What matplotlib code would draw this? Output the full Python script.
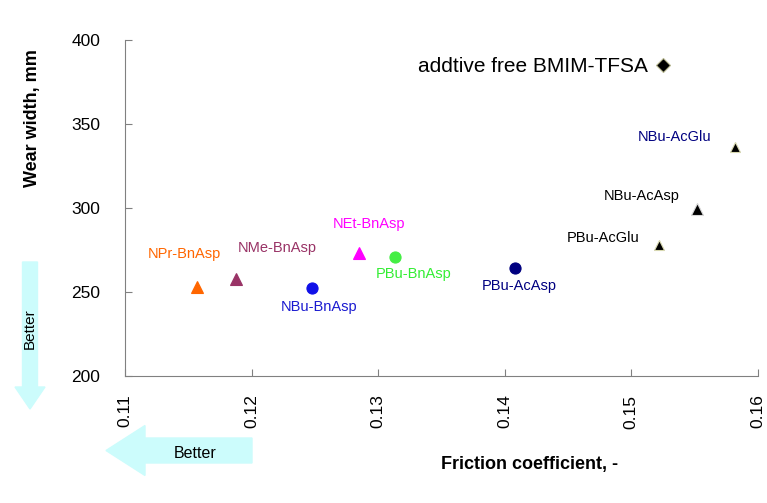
import matplotlib.pyplot as plt
from matplotlib.patches import FancyArrow

plt.rcParams["font.family"] = ["Liberation Sans", "DejaVu Sans"]

# data
names = ["addtive free BMIM-TFSA", "NBu-AcGlu", "NBu-AcAsp", "PBu-AcGlu", "PBu-AcAsp",
         "PBu-BnAsp", "NBu-BnAsp", "NEt-BnAsp", "NMe-BnAsp", "NPr-BnAsp"]
friction = [0.1525, 0.1582, 0.1552, 0.1522, 0.1408, 0.1313, 0.1248, 0.1285, 0.1188, 0.1157]
wear = [385.2, 336.4, 299.7, 278.0, 264.3, 271.0, 252.3, 273.2, 258.2, 252.9]

# styles
markers = ["D", "^", "^", "^", "o", "o", "o", "^", "^", "^"]
sizes = [7, 6.5, 9, 6.5, 8, 8, 8, 8, 8, 8]
face = ["black", "black", "black", "black", "#000080", "#44ee44", "#1010e8",
        "#ff00ff", "#993366", "#ff6600"]
edge = ["#b8b890", "#d8d8b0", "#d8d8d8", "#d8d8b0", "#000080", "#44ee44", "#1010e8",
        "#ff00ff", "#993366", "#ff6600"]
text_colors = ["black", "#000080", "black", "black", "#000080", "#33ee33", "#1a1ad0",
               "#ff00ff", "#993366", "#ff6600"]
offsets = [(-15, -2), (-60, 10), (-55, 13), (-56, 7), (4, -18),
           (19, -17), (7, -19), (10, 29), (41, 31), (-13, 33)]

fig = plt.figure(figsize=(7.67, 5.03), dpi=100)
ax = fig.add_axes([0.163, 0.2515, 0.825, 0.669])

for i in range(len(names)):
    ax.plot(friction[i], wear[i], marker=markers[i], ms=sizes[i], mfc=face[i],
            mec=edge[i], mew=0.8, ls="none")
    if i == 0:
        ax.annotate(names[i], (friction[i], wear[i]), xytext=offsets[i],
                    textcoords="offset pixels", ha="right", va="center",
                    fontsize=15, color=text_colors[i])
    else:
        ax.annotate(names[i], (friction[i], wear[i]), xytext=offsets[i],
                    textcoords="offset pixels", ha="center", va="center",
                    fontsize=10.5, color=text_colors[i])

ax.set_xlim(0.11, 0.16)
ax.set_ylim(200, 400)
ax.set_xticks([0.11, 0.12, 0.13, 0.14, 0.15, 0.16])
ax.set_xticklabels(["0.11", "0.12", "0.13", "0.14", "0.15", "0.16"], rotation=90)
ax.set_yticks([200, 250, 300, 350, 400])
for s in ["top", "right"]:
    ax.spines[s].set_visible(False)
for s in ["left", "bottom"]:
    ax.spines[s].set_color("#808080")
ax.tick_params(direction="in", length=5, color="#808080", labelsize=12.5)
ax.tick_params(axis="x", pad=13)
ax.tick_params(axis="y", pad=18)

fig.text(0.042, 0.765, "Wear width, mm", rotation=90, fontsize=13, fontweight="bold",
         ha="center", va="center")
fig.text(0.69, 0.077, "Friction coefficient, -", fontsize=13, fontweight="bold",
         ha="center", va="center")

# "Better" arrows (inches)
arrow_color = "#ccfcfc"
fig.patches.append(FancyArrow(0.30, 2.41, 0, -1.47, width=0.15, head_width=0.30,
                              head_length=0.22, length_includes_head=True,
                              color=arrow_color, transform=fig.dpi_scale_trans))
fig.patches.append(FancyArrow(2.52, 0.525, -1.46, 0, width=0.25, head_width=0.50,
                              head_length=0.39, length_includes_head=True,
                              color=arrow_color, transform=fig.dpi_scale_trans))
fig.text(0.30 / 7.67, 1.74 / 5.03, "Better", rotation=90, fontsize=11,
         ha="center", va="center")
fig.text(1.95 / 7.67, 0.50 / 5.03, "Better", fontsize=11.5, ha="center", va="center")

fig.savefig("out.png", dpi=100)
